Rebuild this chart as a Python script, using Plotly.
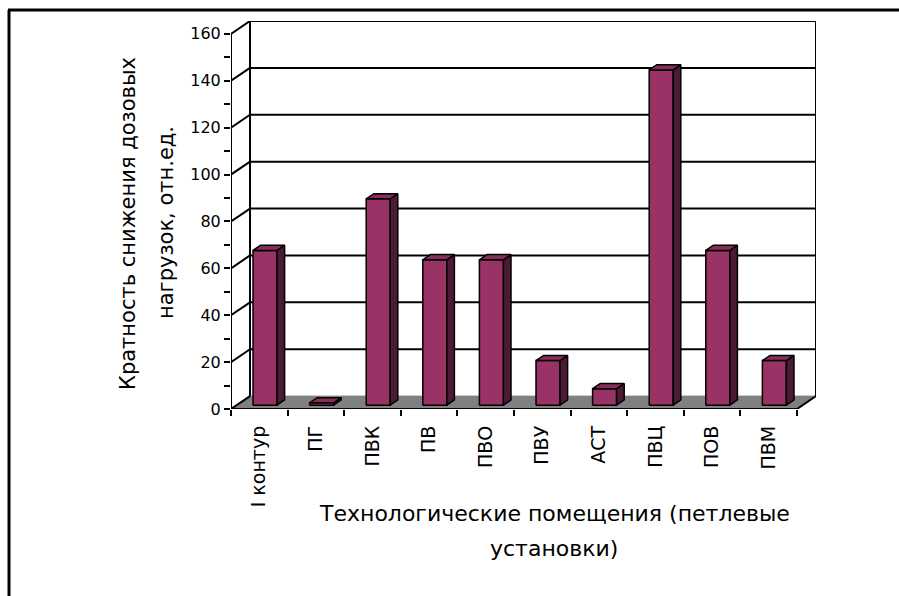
import plotly.graph_objects as go

# ---- data -------------------------------------------------------------
categories = ["I контур", "ПГ", "ПВК", "ПВ", "ПВО", "ПВУ", "АСТ", "ПВЦ", "ПОВ", "ПВМ"]
values = [66, 1, 88, 62, 62, 19, 7, 143, 66, 19]
y_ticks = [0, 20, 40, 60, 80, 100, 120, 140, 160]

y_title = ["Кратность снижения дозовых", "нагрузок, отн.ед."]
x_title = ["Технологические помещения (петлевые", "установки)"]

# ---- pseudo-3D geometry (in data units) --------------------------------
DX, DY = 0.336, 5.5          # depth offset of the back wall
BAR_W = 0.424                # bar front-face width (category units)
F0, F1 = 0.30, 0.70          # bar front / back depth fractions
Y_MAX = 160

FRONT = "#993366"
SIDE = "#4d1a33"
TOP = "#862d5a"
FLOOR = "#808080"
FONT = "DejaVu Sans"

W, H = 899, 596
ML, MR, MT, MB = 231, 83, 21, 187
n = len(categories)
x0, x1 = -0.5, n - 0.5

fig = go.Figure()


def poly(xs, ys, fill, line_color="black", width=1.5):
    fig.add_trace(go.Scatter(
        x=list(xs) + [xs[0]], y=list(ys) + [ys[0]], mode="lines",
        fill="toself", fillcolor=fill,
        line=dict(color=line_color, width=width),
        hoverinfo="skip", showlegend=False))


def lines(xs, ys, width=2, color="black"):
    fig.add_trace(go.Scatter(
        x=xs, y=ys, mode="lines", line=dict(color=color, width=width),
        hoverinfo="skip", showlegend=False))


# floor
poly([x0, x1, x1 + DX, x0 + DX], [0, 0, DY, DY], FLOOR, line_color=FLOOR, width=1)

# back-wall gridlines, left-wall diagonals and wall edges
gx, gy = [], []
for v in y_ticks:
    if v > 0:
        gx += [x0 + DX, x1 + DX, None]
        gy += [v + DY, v + DY, None]
    gx += [x0, x0 + DX, None]
    gy += [v, v + DY, None]
gx += [x0 + DX, x0 + DX, None, x1 + DX, x1 + DX, None, x0, x0, None]
gy += [DY, Y_MAX + DY, None, DY, Y_MAX + DY, None, 0, Y_MAX, None]
# floor front and right edges
gx += [x0, x1, x1 + DX]
gy += [0, 0, DY]
lines(gx, gy)

# bars
ddx, ddy = (F1 - F0) * DX, (F1 - F0) * DY
for i, v in enumerate(values):
    bl = i - BAR_W / 2 + F0 * DX
    br = i + BAR_W / 2 + F0 * DX
    base = F0 * DY
    top = v + F0 * DY
    poly([bl, br, br, bl], [base, base, top, top], FRONT)
    poly([br, br + ddx, br + ddx, br], [base, base + ddy, top + ddy, top], SIDE)
    poly([bl, br, br + ddx, bl + ddx], [top, top, top + ddy, top + ddy], TOP)

fig.update_layout(
    width=W, height=H,
    margin=dict(l=ML, r=MR, t=MT, b=MB),
    paper_bgcolor="white", plot_bgcolor="white",
    showlegend=False,
    xaxis=dict(
        range=[x0, x1 + DX], showgrid=False, zeroline=False, showline=False,
        tickmode="array", tickvals=list(range(n)), ticktext=categories,
        tickangle=-90, ticks="", ticklabelstandoff=12,
        tickfont=dict(family=FONT, size=19, color="black"),
        minor=dict(tickmode="array", tickvals=[k - 0.5 for k in range(n + 1)],
                   ticks="outside", ticklen=6, tickwidth=2, tickcolor="black"),
    ),
    yaxis=dict(
        range=[0, Y_MAX + DY], showgrid=False, zeroline=False, showline=False,
        tickmode="array", tickvals=y_ticks,
        ticks="outside", ticklen=6, tickwidth=2, tickcolor="black",
        tickfont=dict(family=FONT, size=16, color="black"),
        minor=dict(dtick=10, tick0=0, ticks="outside", ticklen=6,
                   tickwidth=2, tickcolor="black"),
    ),
)

PW, PH = W - ML - MR, H - MT - MB


def px(xp):
    return (xp - ML) / PW


def py(yp):
    return (H - MB - yp) / PH


# axis titles
for text, xp in zip(y_title, [128, 166]):
    fig.add_annotation(text=text, x=px(xp), y=py(223), xref="paper", yref="paper",
                       textangle=-90, showarrow=False, xanchor="center", yanchor="middle",
                       font=dict(family=FONT, size=21, color="black"))
for text, yp in zip(x_title, [513, 548]):
    fig.add_annotation(text=text, x=px(554), y=py(yp), xref="paper", yref="paper",
                       showarrow=False, xanchor="center", yanchor="middle",
                       font=dict(family=FONT, size=22, color="black"))

# chart-area frame (top and left edges)
fig.add_shape(type="line", xref="paper", yref="paper",
              x0=px(8), x1=px(899), y0=py(10), y1=py(10),
              line=dict(color="black", width=3))
fig.add_shape(type="line", xref="paper", yref="paper",
              x0=px(9), x1=px(9), y0=py(10), y1=py(596),
              line=dict(color="black", width=3))

fig.write_html("out.html")
